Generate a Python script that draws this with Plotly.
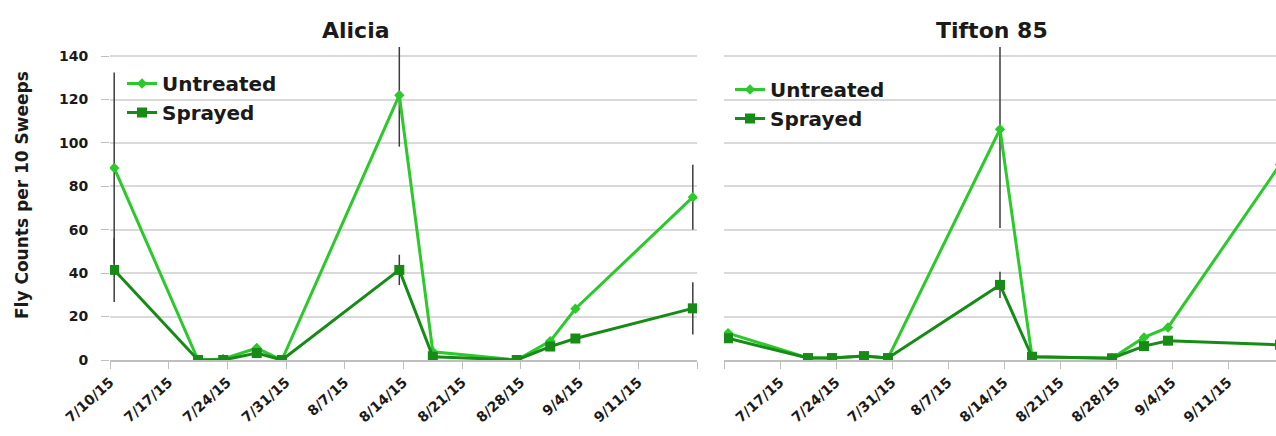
import pandas as pd
import plotly.graph_objects as go

# ---- data ----
dates = ["2015-07-10", "2015-07-20", "2015-07-23", "2015-07-27", "2015-07-30",
         "2015-08-13", "2015-08-17", "2015-08-27", "2015-08-31", "2015-09-03",
         "2015-09-17"]

alicia_untreated = [88.5, 0, 0.5, 5.5, 0, 122, 3.8, 0, 8.7, 23.6, 75]
alicia_untreated_err = [44, 0, 0, 0, 0, 23.7, 0, 0, 0, 0, 15]
alicia_sprayed = [41.5, 0, 0, 3.2, 0, 41.5, 1.5, 0, 6.2, 9.9, 23.8]
alicia_sprayed_err = [14.8, 0, 0, 0, 0, 7, 0, 0, 0, 0, 12]

tifton_untreated = [12.4, 0.9, 0.9, 1.8, 0.9, 106.3, 1.5, 0.8, 10.4, 15, 90]
tifton_untreated_err = [0, 0, 0, 0, 0, 45.5, 0, 0, 0, 0, 0]
tifton_sprayed = [10, 0.9, 0.9, 1.8, 0.9, 34.6, 1.5, 0.8, 6.4, 8.9, 7]
tifton_sprayed_err = [0, 0, 0, 0, 0, 6, 0, 0, 0, 0, 0]

tick_dates = ["2015-07-10", "2015-07-17", "2015-07-24", "2015-07-31", "2015-08-07",
              "2015-08-14", "2015-08-21", "2015-08-28", "2015-09-04", "2015-09-11",
              "2015-09-18"]
tick_labels = ["7/10/15", "7/17/15", "7/24/15", "7/31/15", "8/7/15", "8/14/15",
               "8/21/15", "8/28/15", "9/4/15", "9/11/15", "9/18/15"]

# Excel date axis "between tick marks": points sit in the middle of each day slot
x = pd.to_datetime(dates) + pd.Timedelta(hours=12)

W, H = 1276, 436
C_UNT = "#2cc82c"
C_SPR = "#168c16"
FONT = "DejaVu Sans"
TXT = "#1a1a1a"
ERR = dict(type="data", thickness=1.5, width=0, color="#3c3c3c")

fig = go.Figure()


def add_pair(unt, unt_err, spr, spr_err, xa, ya, legend):
    fig.add_trace(go.Scatter(
        x=x, y=unt, name="Untreated", mode="lines+markers",
        line=dict(color=C_UNT, width=3),
        marker=dict(symbol="diamond", size=8, color=C_UNT),
        error_y=dict(array=unt_err, **ERR),
        xaxis=xa, yaxis=ya, legend=legend))
    fig.add_trace(go.Scatter(
        x=x, y=spr, name="Sprayed", mode="lines+markers",
        line=dict(color=C_SPR, width=3),
        marker=dict(symbol="square", size=10, color=C_SPR),
        error_y=dict(array=spr_err, **ERR),
        xaxis=xa, yaxis=ya, legend=legend))


add_pair(alicia_untreated, alicia_untreated_err, alicia_sprayed, alicia_sprayed_err,
         "x", "y", "legend")
add_pair(tifton_untreated, tifton_untreated_err, tifton_sprayed, tifton_sprayed_err,
         "x2", "y2", "legend2")

y_dom = [(H - 360) / H, (H - 47) / H]
y_range = [0, 144.2]
tickfont_x = dict(family=FONT, size=14, color=TXT, weight="bold")

common_x = dict(type="date", showgrid=False, showline=True, linecolor="#bfbfbf",
                linewidth=1.5, ticks="outside", ticklen=7, tickcolor="#bfbfbf",
                tickangle=-42, tickfont=tickfont_x, zeroline=False, automargin=False)
common_y = dict(range=y_range, domain=y_dom, dtick=20, showgrid=True,
                gridcolor="#d9d9d9", gridwidth=1.5, zeroline=False, showline=False,
                automargin=False)

left_text = tick_labels[:-1] + [""]
right_text = [""] + tick_labels[1:]

legend_font = dict(family=FONT, size=20, color=TXT, weight="bold")

fig.update_layout(
    width=W, height=H,
    margin=dict(l=0, r=0, t=0, b=0, autoexpand=False),
    paper_bgcolor="white", plot_bgcolor="white",
    font=dict(family=FONT, color=TXT),
    xaxis=dict(domain=[110 / W, 697 / W], range=["2015-07-10", "2015-09-18"],
               tickvals=tick_dates, ticktext=left_text, anchor="y", **common_x),
    xaxis2=dict(domain=[724 / W, 1.0], range=["2015-07-10", "2015-09-17"],
                tickvals=tick_dates, ticktext=right_text, anchor="y2", **common_x),
    yaxis=dict(anchor="x", ticks="outside", ticklen=8, tickcolor="#bfbfbf",
               tickfont=dict(family=FONT, size=14, color=TXT, weight="bold"),
               ticklabelstandoff=10, **common_y),
    yaxis2=dict(anchor="x2", showticklabels=False, ticks="", **common_y),
    legend=dict(x=122 / W, y=1 - 64 / H, xanchor="left", yanchor="top",
                bgcolor="rgba(0,0,0,0)", font=legend_font,
                itemwidth=30, tracegroupgap=0),
    legend2=dict(x=730 / W, y=1 - 70 / H, xanchor="left", yanchor="top",
                 bgcolor="rgba(0,0,0,0)", font=legend_font,
                 itemwidth=30, tracegroupgap=0),
    annotations=[
        dict(text="<b>Alicia</b>", x=356 / W, y=1 - 31 / H, xref="paper", yref="paper",
             showarrow=False, xanchor="center", yanchor="middle",
             font=dict(family=FONT, size=22, color=TXT)),
        dict(text="<b>Tifton 85</b>", x=992 / W, y=1 - 31 / H, xref="paper", yref="paper",
             showarrow=False, xanchor="center", yanchor="middle",
             font=dict(family=FONT, size=22, color=TXT)),
        dict(text="<b>Fly Counts per 10 Sweeps</b>", x=22 / W, y=1 - 195 / H,
             xref="paper", yref="paper", showarrow=False, textangle=-90,
             xanchor="center", yanchor="middle",
             font=dict(family=FONT, size=17, color=TXT)),
    ],
)

fig.write_html(
    "out.html",
    config={"displayModeBar": False},
    post_script="document.body.style.margin='0';document.body.style.overflow='hidden';",
)
